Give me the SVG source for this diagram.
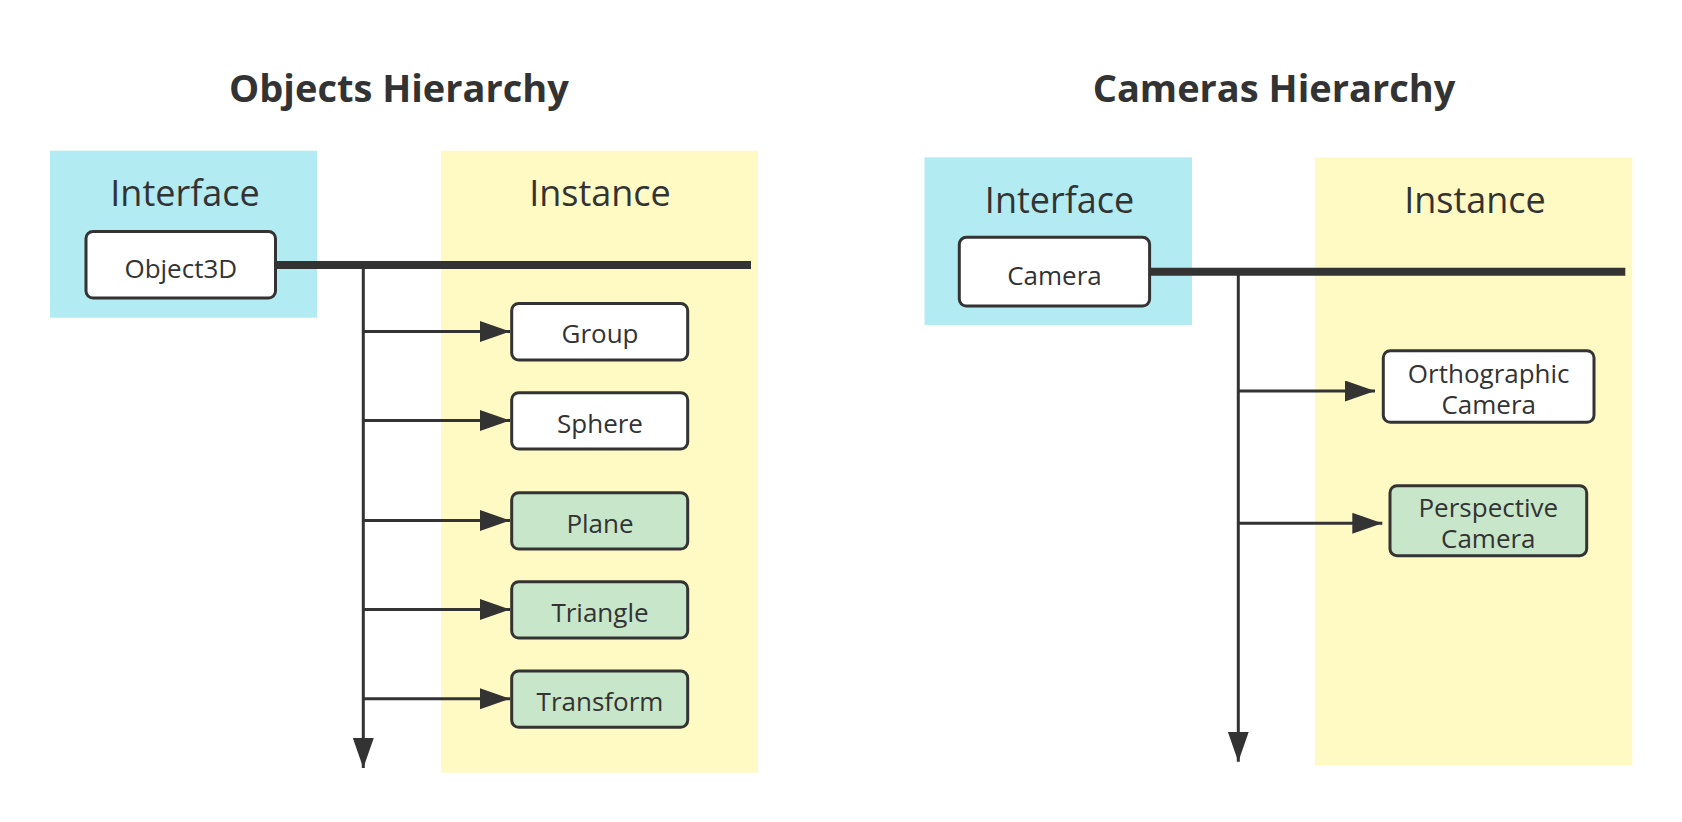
<svg xmlns="http://www.w3.org/2000/svg" width="1682" height="822" viewBox="0 0 1682 822">
<style>
.bg{fill:#ffffff}
.cyan{fill:#b2ebf2}
.yellow{fill:#fff9c4}
.node{stroke:#333333;stroke-width:3}
.white{fill:#ffffff}
.green{fill:#c8e6c9}
.title{font-family:"Open Sans","Noto Sans",sans-serif;font-weight:bold;font-size:38px;fill:#333333;text-anchor:middle}
.lane{font-family:"Open Sans","Noto Sans",sans-serif;font-size:36px;fill:#333333;text-anchor:middle}
.label{font-family:"Open Sans","Noto Sans",sans-serif;font-size:26px;fill:#333333;text-anchor:middle}
.bus{stroke:#333333;stroke-width:8;fill:none}
.conn{stroke:#333333;stroke-width:3;fill:none}
</style>
<defs>
<marker id="arrow" markerUnits="userSpaceOnUse" markerWidth="31" markerHeight="22" refX="30" refY="10.5" orient="auto">
<path d="M0,0 L30,10.5 L0,21 z" fill="#333333"/>
</marker>
</defs>
<rect class="bg" x="0" y="0" width="1682" height="822"/>

<g id="objects-panel">
<text class="title" x="399" y="101.7">Objects Hierarchy</text>
<rect class="cyan" x="50" y="150.7" width="267" height="167"/>
<rect class="yellow" x="441" y="150.7" width="317" height="622"/>
<text class="lane" x="185" y="205.7">Interface</text>
<text class="lane" x="600" y="205.7">Instance</text>
</g>

<g id="cameras-panel">
<text class="title" x="1274" y="101.7">Cameras Hierarchy</text>
<rect class="cyan" x="924.5" y="157.3" width="267.5" height="167.7"/>
<rect class="yellow" x="1315" y="157.3" width="317.4" height="608"/>
<text class="lane" x="1059.6" y="212.7">Interface</text>
<text class="lane" x="1475" y="212.7">Instance</text>
</g>

<g id="connectors">
<line class="bus" x1="275" y1="265" x2="751" y2="265"/>
<line class="conn" x1="363.3" y1="265" x2="363.3" y2="768" marker-end="url(#arrow)"/>
<line class="conn" x1="363.3" y1="331.5" x2="510" y2="331.5" marker-end="url(#arrow)"/>
<line class="conn" x1="363.3" y1="420.5" x2="510" y2="420.5" marker-end="url(#arrow)"/>
<line class="conn" x1="363.3" y1="520.5" x2="510" y2="520.5" marker-end="url(#arrow)"/>
<line class="conn" x1="363.3" y1="609.5" x2="510" y2="609.5" marker-end="url(#arrow)"/>
<line class="conn" x1="363.3" y1="698.8" x2="510" y2="698.8" marker-end="url(#arrow)"/>

<line class="bus" x1="1148" y1="271.7" x2="1625.3" y2="271.7"/>
<line class="conn" x1="1238.3" y1="271.7" x2="1238.3" y2="761.7" marker-end="url(#arrow)"/>
<line class="conn" x1="1238.3" y1="391" x2="1375" y2="391" marker-end="url(#arrow)"/>
<line class="conn" x1="1238.3" y1="523.3" x2="1382.3" y2="523.3" marker-end="url(#arrow)"/>
</g>

<g id="object3d">
<rect class="node white" x="86" y="231.5" width="189.5" height="66.5" rx="7"/>
<text class="label" x="180.8" y="277.5">Object3D</text>
</g>
<g id="group">
<rect class="node white" x="511.7" y="303.5" width="176" height="56.5" rx="7"/>
<text class="label" x="600" y="343.3">Group</text>
</g>
<g id="sphere">
<rect class="node white" x="511.7" y="392.7" width="176" height="56.3" rx="7"/>
<text class="label" x="600" y="432.7">Sphere</text>
</g>
<g id="plane">
<rect class="node green" x="511.7" y="492.7" width="176" height="56.3" rx="7"/>
<text class="label" x="600" y="532.5">Plane</text>
</g>
<g id="triangle">
<rect class="node green" x="511.7" y="581.7" width="176" height="56.3" rx="7"/>
<text class="label" x="600" y="621.5">Triangle</text>
</g>
<g id="transform">
<rect class="node green" x="511.7" y="671" width="176" height="56.3" rx="7"/>
<text class="label" x="600" y="710.8">Transform</text>
</g>

<g id="camera">
<rect class="node white" x="959.3" y="237.3" width="190.3" height="68.7" rx="7"/>
<text class="label" x="1054.5" y="285">Camera</text>
</g>
<g id="orthographic-camera">
<rect class="node white" x="1383.3" y="350.7" width="210.7" height="71.6" rx="7"/>
<text class="label" x="1488.7" y="382.7">Orthographic<tspan x="1488.7" dy="31.6">Camera</tspan></text>
</g>
<g id="perspective-camera">
<rect class="node green" x="1390" y="485.7" width="196.7" height="70" rx="7"/>
<text class="label" x="1488.3" y="516.7">Perspective<tspan x="1488.3" dy="31.6">Camera</tspan></text>
</g>
</svg>
